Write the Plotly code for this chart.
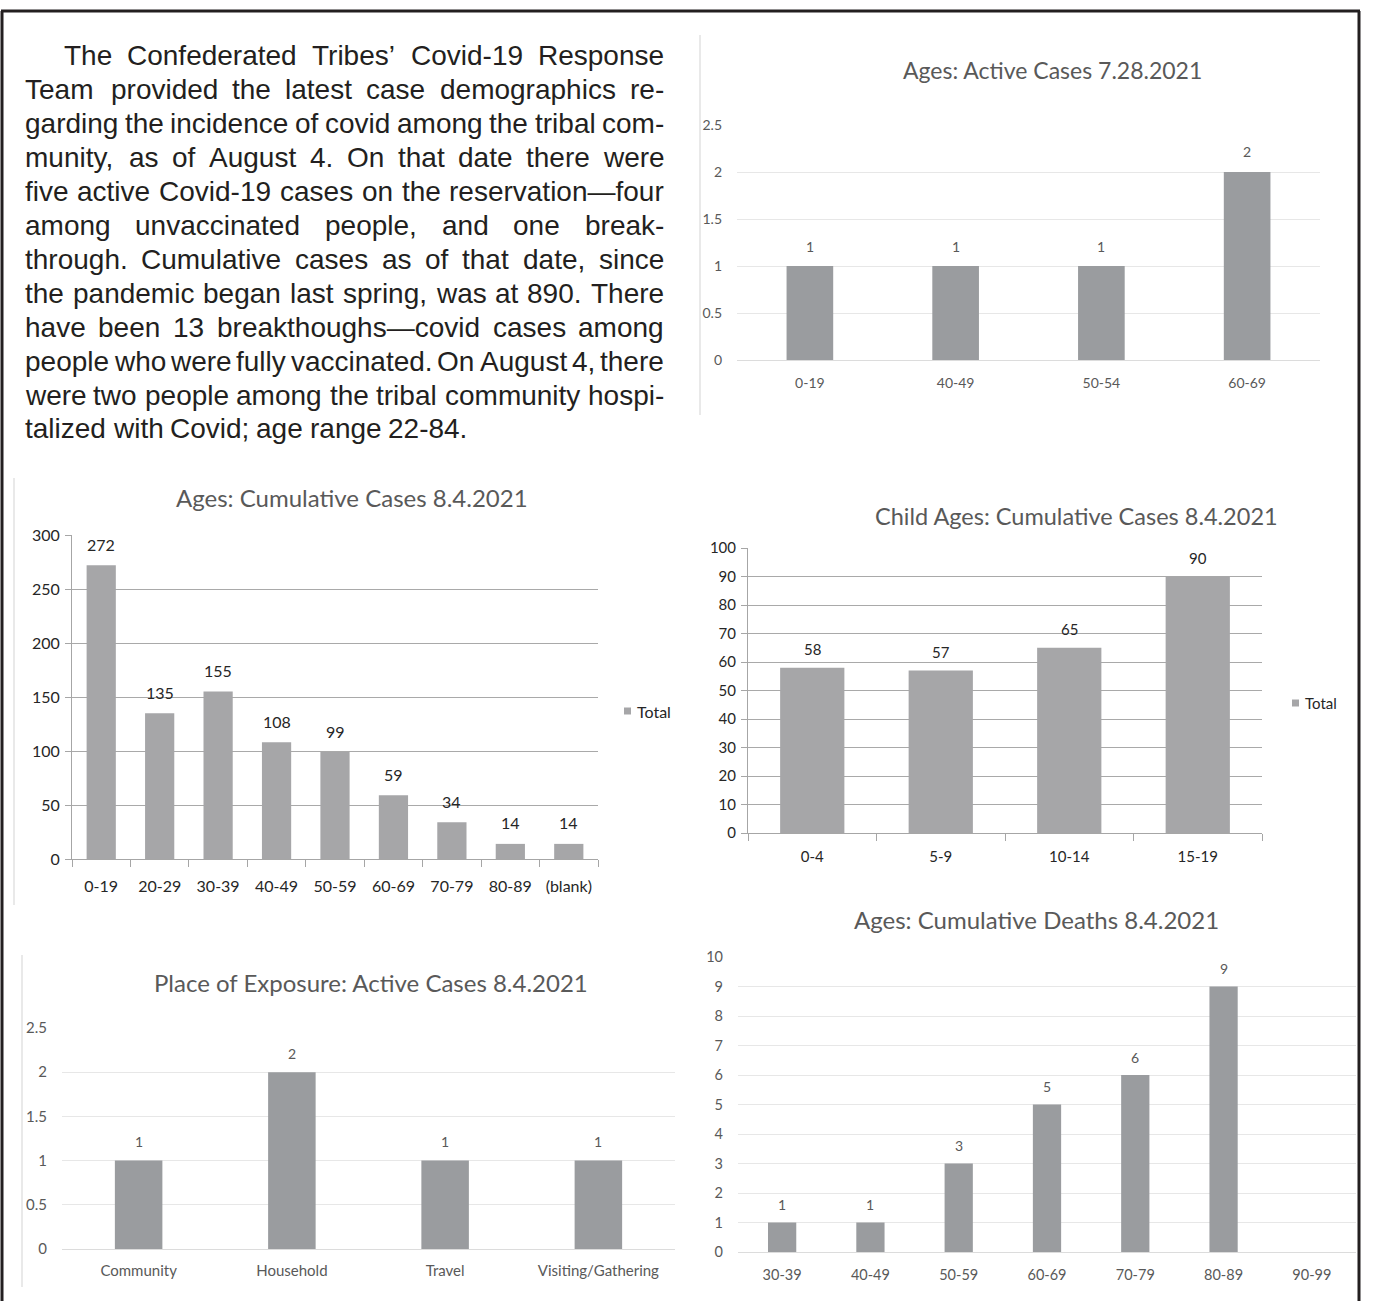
import plotly.graph_objects as go

W, H = 1383, 1301

# ---------------- data ----------------
active_ages = ["0-19", "40-49", "50-54", "60-69"]
active_vals = [1, 1, 1, 2]

cum_ages = ["0-19", "20-29", "30-39", "40-49", "50-59", "60-69", "70-79", "80-89", "(blank)"]
cum_vals = [272, 135, 155, 108, 99, 59, 34, 14, 14]

child_ages = ["0-4", "5-9", "10-14", "15-19"]
child_vals = [58, 57, 65, 90]

exposure_places = ["Community", "Household", "Travel", "Visiting/Gathering"]
exposure_vals = [1, 2, 1, 1]

death_ages = ["30-39", "40-49", "50-59", "60-69", "70-79", "80-89", "90-99"]
death_vals = [1, 1, 3, 5, 6, 9, None]

paragraph_lines = [
    "The Confederated Tribes’ Covid-19 Response",
    "Team provided the latest case demographics re-",
    "garding the incidence of covid among the tribal com-",
    "munity, as of August 4.  On that date there were",
    "five active Covid-19 cases on the reservation—four",
    "among unvaccinated people, and one break-",
    "through. Cumulative cases as of that date, since",
    "the pandemic began last spring, was at 890. There",
    "have been 13 breakthoughs—covid cases among",
    "people who were fully vaccinated. On August 4, there",
    "were two people among the tribal community hospi-",
    "talized with Covid; age range 22-84.",
]

# ---------------- helpers ----------------
def px(x):
    return x / W

def py(y):
    return 1 - y / H

CHART_FONT = "Lato, 'Open Sans', sans-serif"
BAR_DARK = "#9a9c9f"
BAR_LIGHT = "#a6a6a8"

fig = go.Figure()

# Helvetica/Arial advance widths (per 1000 em) for justified text layout
AW = {' ': 278, 'a': 556, 'b': 556, 'c': 500, 'd': 556, 'e': 556, 'f': 278, 'g': 556, 'h': 556,
      'i': 222, 'j': 222, 'k': 500, 'l': 222, 'm': 833, 'n': 556, 'o': 556, 'p': 556, 'q': 556,
      'r': 333, 's': 500, 't': 278, 'u': 556, 'v': 500, 'w': 722, 'x': 500, 'y': 500, 'z': 500,
      'A': 667, 'B': 667, 'C': 722, 'D': 722, 'E': 667, 'F': 611, 'G': 778, 'H': 722, 'I': 278,
      'J': 500, 'K': 667, 'L': 556, 'M': 833, 'N': 722, 'O': 778, 'P': 667, 'Q': 778, 'R': 722,
      'S': 667, 'T': 611, 'U': 722, 'V': 667, 'W': 944, 'X': 667, 'Y': 667, 'Z': 611,
      '0': 556, '1': 556, '2': 556, '3': 556, '4': 556, '5': 556, '6': 556, '7': 556, '8': 556,
      '9': 556, '.': 278, ',': 278, '-': 333, '—': 1000, ';': 278, '’': 222, "'": 191}

FS = 28
def wwidth(w):
    return sum(AW.get(c, 556) for c in w) * FS / 1000.0

annotations = []
LEFT, INDENT, RIGHT = 25, 64, 664
Y0, DY = 56, 33.9
for i, line in enumerate(paragraph_lines):
    words = line.split()
    ypos = Y0 + i * DY
    start = INDENT if i == 0 else LEFT
    last = (i == len(paragraph_lines) - 1)
    widths = [wwidth(w) for w in words]
    if last or len(words) == 1:
        gap = wwidth(' ') * 0.9
    else:
        gap = (RIGHT - start - sum(widths)) / (len(words) - 1)
    x = start
    for w, ww in zip(words, widths):
        annotations.append(dict(text=w, x=px(x), y=py(ypos), xref="paper", yref="paper",
                                xanchor="left", yanchor="middle", showarrow=False,
                                borderpad=0, borderwidth=0,
                                font=dict(family="'Liberation Sans', Arial, sans-serif",
                                          size=FS, color="#231f20")))
        x += ww + gap

# ---------------- chart definitions ----------------
charts = [
    dict(cats=active_ages, vals=active_vals, title="Ages: Active Cases 7.28.2021", tx=1052, ty=70, tsize=23,
         xd=(737, 1320), yd=(125, 360), yr=2.5, dt=0.5, style="light", tick=14, lab=14, bw=0.32,
         color=BAR_DARK, ystand=14, xstand=13, lshift=20),
    dict(cats=cum_ages, vals=cum_vals, title="Ages: Cumulative Cases 8.4.2021", tx=352, ty=497, tsize=24,
         xd=(72, 598), yd=(535, 859), yr=300, dt=50, style="dark", tick=16, lab=16, bw=0.5,
         color=BAR_LIGHT, legend=(624, 711, 16), ystand=2, xstand=13, lshift=21),
    dict(cats=child_ages, vals=child_vals, title="Child Ages: Cumulative Cases 8.4.2021", tx=1076, ty=516,
         tsize=23.5, xd=(748, 1262), yd=(548, 833), yr=100, dt=10, style="dark", tick=15, lab=15, bw=0.5,
         color=BAR_LIGHT, legend=(1292, 703, 15), ystand=2, xstand=10, lshift=19),
    dict(cats=exposure_places, vals=exposure_vals, title="Place of Exposure: Active Cases 8.4.2021", tx=371,
         ty=982, tsize=24, xd=(62, 675), yd=(1028, 1249), yr=2.5, dt=0.5, style="light", tick=15, lab=14,
         bw=0.31, color=BAR_DARK, ystand=14, xstand=11, lshift=19),
    dict(cats=death_ages, vals=death_vals, title="Ages: Cumulative Deaths 8.4.2021", tx=1036, ty=919, tsize=24,
         xd=(738, 1356), yd=(957, 1252), yr=10, dt=1, style="light", tick=14.5, lab=14, bw=0.32,
         color=BAR_DARK, ystand=14, xstand=12, lshift=18),
]

shapes = []

for k, c in enumerate(charts, start=1):
    xa = "x" if k == 1 else f"x{k}"
    ya = "y" if k == 1 else f"y{k}"
    dark = c["style"] == "dark"
    txtcol = "#262626" if dark else "#595959"
    tr = go.Bar(x=c["cats"], y=c["vals"], xaxis=xa, yaxis=ya, name="Total",
                marker=dict(color=c["color"], line=dict(width=0)), width=c["bw"],
                showlegend=False)
    fig.add_trace(tr)

    # data labels placed through the axis scales
    for cat, v in zip(c["cats"], c["vals"]):
        if v is None:
            continue
        annotations.append(dict(text=str(v), x=cat, y=v, xref=xa, yref=ya, xanchor="center",
                                yanchor="middle", yshift=c["lshift"], showarrow=False,
                                font=dict(family=CHART_FONT, size=c["lab"], color=txtcol)))

    xkey = "xaxis" if k == 1 else f"xaxis{k}"
    ykey = "yaxis" if k == 1 else f"yaxis{k}"
    xaxis = dict(domain=[px(c["xd"][0]), px(c["xd"][1])], anchor=ya, type="category",
                 tickfont=dict(family=CHART_FONT, size=c["tick"], color=txtcol), showgrid=False,
                 fixedrange=True, automargin=False, ticklabelstandoff=c["xstand"])
    yaxis = dict(domain=[py(c["yd"][1]), py(c["yd"][0])], anchor=xa, range=[0, c["yr"]], dtick=c["dt"],
                 tick0=0, tickfont=dict(family=CHART_FONT, size=c["tick"], color=txtcol), fixedrange=True,
                 automargin=False, ticklabelstandoff=c["ystand"])
    if dark:
        xaxis.update(showline=True, linecolor="#a6a6a6", linewidth=1, ticks="outside", tickson="boundaries",
                     ticklen=7, tickcolor="#a6a6a6")
        yaxis.update(showline=True, linecolor="#a6a6a6", linewidth=1, showgrid=True, gridcolor="#a9a9a9",
                     gridwidth=1, ticks="outside", ticklen=6, tickcolor="#a6a6a6", zeroline=False)
    else:
        xaxis.update(showline=False, ticks="")
        yaxis.update(showline=False, showgrid=True, gridcolor="#e7e7e7", gridwidth=1, zeroline=True,
                     zerolinecolor="#dcdcdc", zerolinewidth=1, ticks="")
    fig.layout[xkey] = xaxis
    fig.layout[ykey] = yaxis

    annotations.append(dict(text=c["title"], x=px(c["tx"]), y=py(c["ty"]), xref="paper", yref="paper",
                            xanchor="center", yanchor="middle", showarrow=False,
                            font=dict(family=CHART_FONT, size=c["tsize"], color="#595959")))
    if "legend" in c:
        lx, ly, ls = c["legend"]
        sq = 7
        shapes.append(dict(type="rect", xref="paper", yref="paper", x0=px(lx), x1=px(lx + sq),
                           y0=py(ly + sq / 2), y1=py(ly - sq / 2), fillcolor=c["color"],
                           line=dict(width=0)))
        annotations.append(dict(text="Total", x=px(lx + sq + 4), y=py(ly), xref="paper", yref="paper",
                                xanchor="left", yanchor="middle", showarrow=False,
                                font=dict(family=CHART_FONT, size=ls, color="#262626")))

# ---------------- frames ----------------
shapes += [
    dict(type="line", xref="paper", yref="paper", x0=px(2), x1=px(2), y0=py(11), y1=py(1301),
         line=dict(color="#231f20", width=3)),
    dict(type="line", xref="paper", yref="paper", x0=px(1), x1=px(1360), y0=py(11), y1=py(11),
         line=dict(color="#231f20", width=3)),
    dict(type="line", xref="paper", yref="paper", x0=px(1359), x1=px(1359), y0=py(11), y1=py(1301),
         line=dict(color="#231f20", width=3)),
    dict(type="line", xref="paper", yref="paper", x0=px(700), x1=px(700), y0=py(35), y1=py(415),
         line=dict(color="#e2e2e2", width=1.5)),
    dict(type="line", xref="paper", yref="paper", x0=px(14), x1=px(14), y0=py(478), y1=py(905),
         line=dict(color="#e2e2e2", width=1.5)),
    dict(type="line", xref="paper", yref="paper", x0=px(22), x1=px(22), y0=py(955), y1=py(1287),
         line=dict(color="#e2e2e2", width=1.5)),
]

fig.update_layout(
    width=W, height=H, margin=dict(l=0, r=0, t=0, b=0, pad=0, autoexpand=False),
    paper_bgcolor="white", plot_bgcolor="white",
    annotations=annotations, shapes=shapes,
    showlegend=False,
)

fig.write_html(
    "out.html",
    config={"displayModeBar": False},
    post_script=("document.body.style.margin='0';"
                 "var d=document.getElementById('{plot_id}');"
                 "d.style.position='absolute';d.style.left='0px';d.style.top='0px';"),
)
